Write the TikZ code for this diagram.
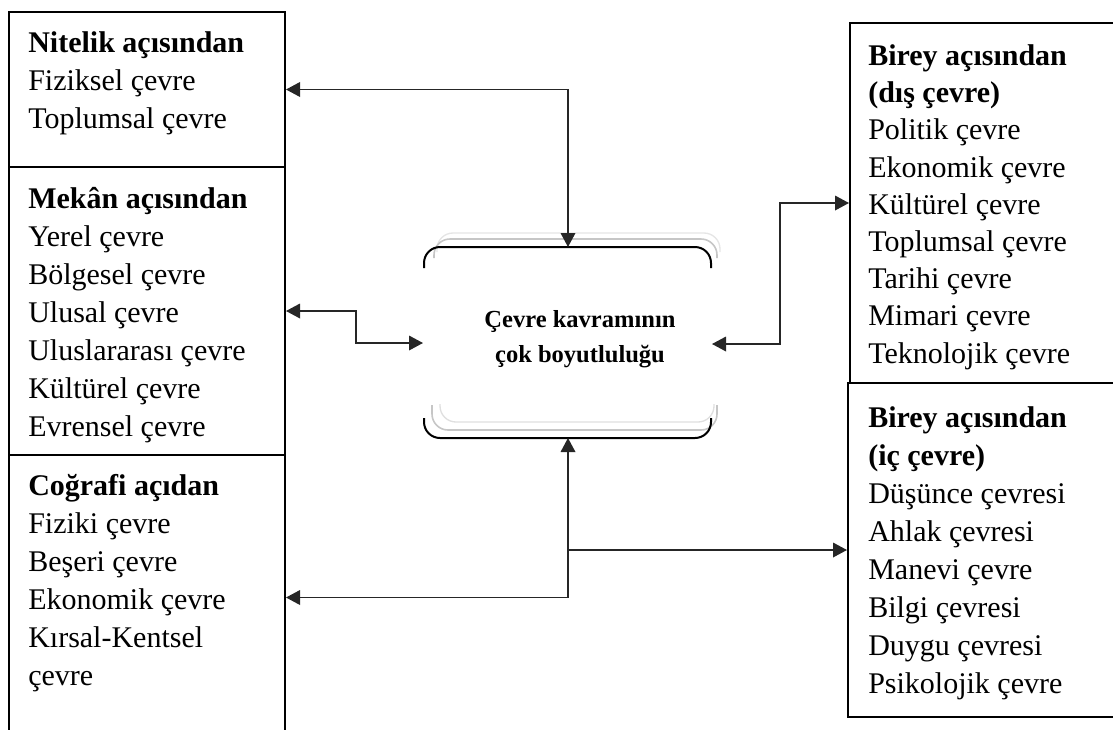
\documentclass[tikz,border=0pt]{standalone}
\usepackage{fontspec}
\setmainfont{Liberation Serif}
\usetikzlibrary{arrows.meta}
\newdimen\px \px=0.75pt

\begin{document}
\begin{tikzpicture}[x=0.75pt,y=-0.75pt,>={Triangle[length=10.5pt,width=11pt]},
  box/.style={draw,line width=1.5pt,inner sep=0pt},
  txt/.style={anchor=north west,inner sep=0pt,align=left,font=\fontsize{22.5}{28.5}\selectfont},
  link/.style={draw=black!85,line width=1pt}]
  \useasboundingbox (0,0) rectangle (1113,729);
  \node (1) at (147,89.5) [box,minimum width=276\px,minimum height=155\px] {};
  \node (2) at (147,311) [box,minimum width=276\px,minimum height=288\px] {};
  \node (3) at (147,597.5) [box,minimum width=276\px,minimum height=285\px] {};
  \node (4) at (987.5,203) [box,minimum width=275\px,minimum height=360\px] {};
  \node (5) at (986.5,550) [box,minimum width=277\px,minimum height=334\px] {};
  \node (t1) at (28,31.5) [txt] {\textbf{Nitelik açısından}\\Fiziksel çevre\\Toplumsal çevre};
  \node (t2) at (28,187.5) [txt] {\textbf{Mekân açısından}\\Yerel çevre\\Bölgesel çevre\\Ulusal çevre\\Uluslararası çevre\\Kültürel çevre\\Evrensel çevre};
  \node (t3) at (28,474.5) [txt] {\textbf{Coğrafi açıdan}\\Fiziki çevre\\Beşeri çevre\\Ekonomik çevre\\Kırsal-Kentsel\\çevre};
  \node (t4) at (868,44.5) [txt,font=\fontsize{22.5}{27.9}\selectfont] {\textbf{Birey açısından}\\\textbf{(dış çevre)}\\Politik çevre\\Ekonomik çevre\\Kültürel çevre\\Toplumsal çevre\\Tarihi çevre\\Mimari çevre\\Teknolojik çevre};
  \node (t5) at (868,406.5) [txt] {\textbf{Birey açısından}\\\textbf{(iç çevre)}\\Düşünce çevresi\\Ahlak çevresi\\Manevi çevre\\Bilgi çevresi\\Duygu çevresi\\Psikolojik çevre};
  \draw[gray!20,line width=1pt,rounded corners=12pt] (437,252) |- (720,233) -- (720,252);
  \draw[gray!45,line width=1.2pt,rounded corners=12pt] (434,258) |- (717,239) -- (717,258);
  \draw[gray!25,line width=1pt,rounded corners=12pt] (440,404) |- (714,422) -- (714,404);
  \draw[gray!45,line width=1.2pt,rounded corners=12pt] (432,405) |- (717,430) -- (717,405);
  \draw[line width=1.5pt,rounded corners=12pt] (424,268) |- (711,247) -- (711,268);
  \draw[line width=1.5pt,rounded corners=12pt] (424,418) |- (711,438) -- (711,418);
  \node (0) at (580,339) [align=center,font=\bfseries\fontsize{18.4}{26.25}\selectfont] {Çevre kavramının\\çok boyutluluğu};
  \coordinate (0n) at (568,247);
  \coordinate (0s) at (568,438);
  \coordinate (0w) at (423,343);
  \coordinate (0e) at (712,344);
  \draw[link,<->] (1.east) -| (0n);
  \draw[link,<->] (2.east) -- ++(70,0) |- (0w);
  \draw[link,<->] (0e) -- ++(68,0) |- (4.west);
  \draw[link,<->] (0s) |- (3.east);
  \draw[link,->] (0s |- 5.west) -- (5.west);
\end{tikzpicture}
\end{document}
